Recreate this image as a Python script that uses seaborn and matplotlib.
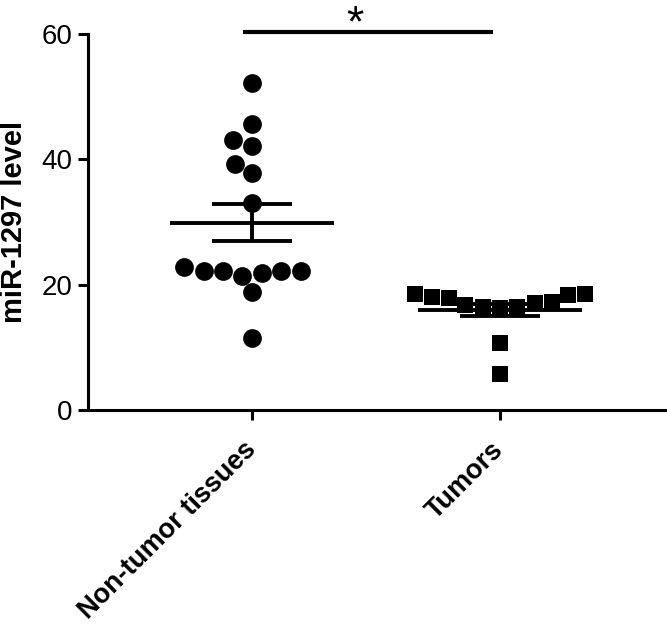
import numpy as np
import pandas as pd
import matplotlib
matplotlib.use('Agg')
import matplotlib.pyplot as plt
import seaborn as sns

# Valores
grupos = ['Non-tumor tissues', 'Tumors']
nao_tumor = [52.2, 45.6, 43.1, 42.1, 39.2, 37.8, 33.0, 22.2, 22.2, 21.4,
             22.8, 21.8, 22.2, 22.2, 18.8, 11.5]
tumor = [17.9, 17.2, 16.8, 16.4, 18.5, 16.2, 18.5, 16.4, 17.0, 18.0,
         18.3, 10.7, 5.7]
yticks = [0, 20, 40, 60]

df = pd.DataFrame({
    'grupo': [grupos[0]] * len(nao_tumor) + [grupos[1]] * len(tumor),
    'valor': nao_tumor + tumor,
})

sns.set_style('ticks')
plt.rcParams['font.family'] = ['Liberation Sans', 'DejaVu Sans']
plt.rcParams['text.color'] = 'black'
plt.rcParams['axes.labelcolor'] = 'black'
plt.rcParams['xtick.color'] = 'black'
plt.rcParams['ytick.color'] = 'black'
plt.rcParams['axes.edgecolor'] = 'black'

fig = plt.figure(figsize=(6.67, 6.25), dpi=100)
ax = fig.add_axes([88 / 667, 1 - 410 / 625, 1 - 88 / 667, (410 - 34) / 625])

sns.swarmplot(data=df[df['grupo'] == grupos[0]], x='grupo', y='valor', order=grupos,
              marker='o', size=13.5, color='black', linewidth=0, ax=ax, warn_thresh=1)
sns.swarmplot(data=df[df['grupo'] == grupos[1]], x='grupo', y='valor', order=grupos,
              marker='s', size=12, color='black', linewidth=0, ax=ax, warn_thresh=1)

# Média e EPM
resumo = df.groupby('grupo', sort=False)['valor'].agg(['mean', 'sem'])
for i, g in enumerate(grupos):
    m, e = resumo.loc[g, 'mean'], resumo.loc[g, 'sem']
    ax.hlines(m, i - 0.33, i + 0.33, color='black', lw=2.8, zorder=5)
    ax.hlines([m - e, m + e], i - 0.16, i + 0.16, color='black', lw=2.8, zorder=5)
    ax.vlines(i, m - e, m + e, color='black', lw=2.8, zorder=5)

# Barra de significância
ax.plot([-0.036, 0.972], [60.3, 60.3], color='black', lw=3, clip_on=False,
        solid_capstyle='butt')
ax.text(0.415, 59.6, '*', ha='center', va='baseline', fontsize=32, clip_on=False)

ax.set_xlim(-0.661, 1.673)
ax.set_ylim(0, 60)
ax.set_yticks(yticks)
ax.set_ylabel('miR-1297 level', fontsize=21, fontweight='bold', labelpad=10)
ax.set_xlabel('')
ax.tick_params(axis='y', labelsize=20, width=2.2, length=7, pad=4)
ax.tick_params(axis='x', labelsize=19.5, width=2.2, length=7, pad=19)
for lab in ax.get_xticklabels():
    lab.set_rotation(45)
    lab.set_ha('right')
    lab.set_va('center')
    lab.set_rotation_mode('anchor')
    lab.set_fontweight('bold')

sns.despine(ax=ax)
for s in ['left', 'bottom']:
    ax.spines[s].set_linewidth(2.2)

fig.savefig('out.png', dpi=100)
